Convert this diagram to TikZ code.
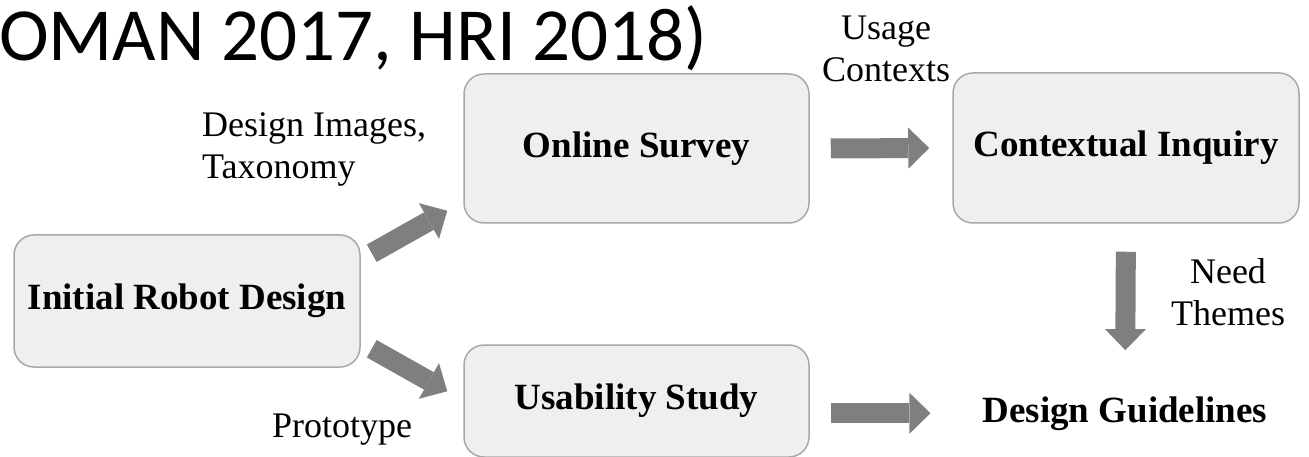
\documentclass[tikz,border=0pt]{standalone}
\usepackage{fontspec}
\setmainfont{Liberation Serif}
\newfontfamily\titlefont{Carlito}
\usepackage{tikz}
\usetikzlibrary{arrows.meta}

\definecolor{boxfill}{HTML}{EFEFEF}
\definecolor{boxline}{HTML}{A8A8A8}
\definecolor{arrowgray}{HTML}{7F7F7F}

\begin{document}
\begin{tikzpicture}[x=1pt,y=-1pt,
  stage/.style={draw=boxline, fill=boxfill, line width=1.5pt, rounded corners=20pt,
    inner sep=0pt, font=\fontsize{37}{42}\selectfont\bfseries},
  note/.style={inner sep=0pt, font=\fontsize{36}{42}\selectfont},
  flow/.style={draw=arrowgray, line width=20pt,
    -{Triangle[width=41pt,length=21pt,line width=0pt]}}]
  \useasboundingbox (0,0) rectangle (1309,457);

  \node[anchor=base west, inner sep=0pt, font=\titlefont\fontsize{75}{80}\selectfont]
    (venue) at (-1,61) {OMAN 2017, HRI 2018)};

  % stages
  \node[stage, minimum width=346pt, minimum height=132pt] (init) at (187,301) {Initial Robot Design};
  \node[stage, minimum width=345pt, minimum height=149pt] (online) at (636.5,148.5) {Online Survey};
  \node[stage, minimum width=346pt, minimum height=150pt] (context) at (1126,148) {Contextual Inquiry};
  \node[stage, minimum width=345pt, minimum height=112pt] (usab) at (636.5,401) {Usability Study};
  \node[anchor=base, inner sep=0pt, font=\fontsize{37}{42}\selectfont\bfseries]
    (guide) at (1125,422) {Design Guidelines};

  % what each step hands on
  \node[note, align=center] (usage) at (886,49) {Usage\\Contexts};
  \node[note, align=left, anchor=west] (images) at (202,149.5) {Design Images,\\Taxonomy};
  \node[note, align=center] (themes) at (1228,292) {Need\\Themes};
  \node[note, anchor=base] (proto) at (342,437) {Prototype};

  \draw[flow] ([shift={(11pt,-19pt)}]init.north east) -- ([shift={(-16pt,13pt)}]online.south west);
  \draw[flow] ([shift={(11pt,19pt)}]init.south east) -- ([shift={(-16pt,-47pt)}]usab.north west);
  \draw[flow, shorten <=21pt, shorten >=23pt] (online.east) -- (context.west);
  \draw[flow, shorten <=28pt, shorten >=46pt] (context.south) -- (guide.north);
  \draw[flow, shorten <=21pt, shorten >=52pt] (usab.east |- guide.west) -- (guide.west);
\end{tikzpicture}
\end{document}
